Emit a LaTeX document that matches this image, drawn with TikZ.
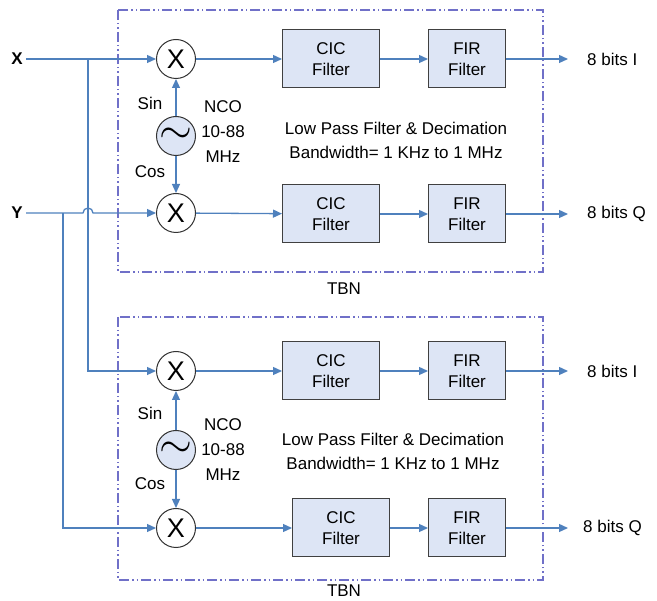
\documentclass[tikz,border=0pt]{standalone}
\usepackage{fontspec}
\setmainfont{Liberation Sans}
\usetikzlibrary{arrows.meta,calc,positioning}
\definecolor{sigblue}{RGB}{79,129,189}
\definecolor{boxfill}{RGB}{221,229,245}
\definecolor{tbnline}{RGB}{112,112,200}
\tikzset{
  filt/.style={draw=black!75, fill=boxfill, line width=1pt, minimum width=97pt, minimum height=58pt, align=center, font=\fontsize{17}{21}\selectfont},
  mix/.style={draw=black!80, fill=white, circle, line width=1pt, minimum size=39pt, inner sep=0pt, font=\fontsize{27}{27}\selectfont},
  osc/.style={mix, fill=boxfill},
  sig/.style={sigblue, line width=1.3pt},
  sigarr/.style={sig, -{Triangle[length=9pt,width=8pt]}},
  tbn/.style={tbnline, line width=1.4pt, dash pattern=on 10pt off 3pt on 1.5pt off 3pt on 1.5pt off 3pt},
  lbl/.style={font=\fontsize{17}{21}\selectfont},
  sclbl/.style={lbl, inner sep=1pt},
  inlbl/.style={font=\bfseries\fontsize{17}{17}\selectfont},
  outlbl/.style={lbl, anchor=west, inner sep=0pt},
}
\begin{document}
\begin{tikzpicture}[x=1pt, y=-1pt]
\useasboundingbox (0,0) rectangle (657,601);
% Riquadri TBN
\draw[tbn] (118,10) rectangle (543,272);
\draw[tbn] (118,317) rectangle (543,580);
\node[lbl] (tbn1) at (344,289) {TBN};
\node[lbl] (tbn2) at (344,591) {TBN};
% Ingressi
\node[inlbl] (xin) at (17,59) {X};
\node[inlbl] (yin) at (17,213) {Y};
\coordinate (xb) at (88,59);
\coordinate (hop) at (88,213);
\coordinate (yb) at (63,213);
% Mixer e NCO (sopra)
\node[mix] (m1) at (176,59) {X};
\node[mix] (m2) at (176,213) {X};
\node[osc] (nco1) at (176,136) {\scalebox{1.7}{$\sim$}};
\node[sclbl] (sin1) at (150,103) {Sin};
\node[sclbl] (cos1) at (150,172) {Cos};
\node[lbl, align=center, font=\fontsize{17}{25}\selectfont] (ncot1) at (223,132) {NCO\\10-88\\MHz};
% Mixer e NCO (sotto)
\node[mix] (m3) at (176,371) {X};
\node[mix] (m4) at (176,528) {X};
\node[osc] (nco2) at (176,450) {\scalebox{1.7}{$\sim$}};
\node[sclbl] (sin2) at (150,413) {Sin};
\node[sclbl] (cos2) at (150,484) {Cos};
\node[lbl, align=center, font=\fontsize{17}{25}\selectfont] (ncot2) at (223,450) {NCO\\10-88\\MHz};
% Filtri
\node[filt] (cic1) at (331,59) {CIC\\Filter};
\node[filt, minimum width=77pt] (fir1) at (467,59) {FIR\\Filter};
\node[filt] (cic2) at (331,214) {CIC\\Filter};
\node[filt, minimum width=77pt] (fir2) at (467,214) {FIR\\Filter};
\node[filt] (cic3) at (331,371) {CIC\\Filter};
\node[filt, minimum width=77pt] (fir3) at (467,371) {FIR\\Filter};
\node[filt] (cic4) at (341,528) {CIC\\Filter};
\node[filt, minimum width=77pt] (fir4) at (467,528) {FIR\\Filter};
\node[lbl, align=center, font=\fontsize{17}{24}\selectfont] (lpf1) at (396,140) {Low Pass Filter \& Decimation\\Bandwidth= 1 KHz to 1 MHz};
\node[lbl, align=center, font=\fontsize{17}{24}\selectfont] (lpf2) at (393,451) {Low Pass Filter \& Decimation\\Bandwidth= 1 KHz to 1 MHz};
% Uscite
\node[outlbl] (oi1) at (587,59) {8 bits I};
\node[outlbl] (oq1) at (587,214) {8 bits Q};
\node[outlbl] (oi2) at (587,371) {8 bits I};
\node[outlbl] (oq2) at (583,528) {8 bits Q};
% Collegamenti
\draw[sigarr] (xin) -- (m1);
\draw[sigarr] (yin.east) -- ([xshift=-5pt]hop) arc[start angle=180, end angle=360, radius=5] -- (m2);
\draw[sigarr] (xb) |- (m3);
\draw[sigarr] (yb) |- (m4);
\draw[sigarr] (nco1) -- (m1);
\draw[sigarr] (nco1) -- (m2);
\draw[sigarr] (nco2) -- (m3);
\draw[sigarr] (nco2) -- (m4);
\draw[sigarr] (m1) -- (cic1);
\draw[sigarr] (cic1) -- (fir1);
\draw[sigarr, shorten >=19pt] (fir1) -- (oi1);
\draw[sigarr] (m2) -- (cic2);
\draw[sigarr] (cic2) -- (fir2);
\draw[sigarr, shorten >=19pt] (fir2) -- (oq1);
\draw[sigarr] (m3) -- (cic3);
\draw[sigarr] (cic3) -- (fir3);
\draw[sigarr, shorten >=19pt] (fir3) -- (oi2);
\draw[sigarr] (m4) -- (cic4);
\draw[sigarr] (cic4) -- (fir4);
\draw[sigarr, shorten >=15pt] (fir4) -- (oq2);
\end{tikzpicture}
\end{document}
